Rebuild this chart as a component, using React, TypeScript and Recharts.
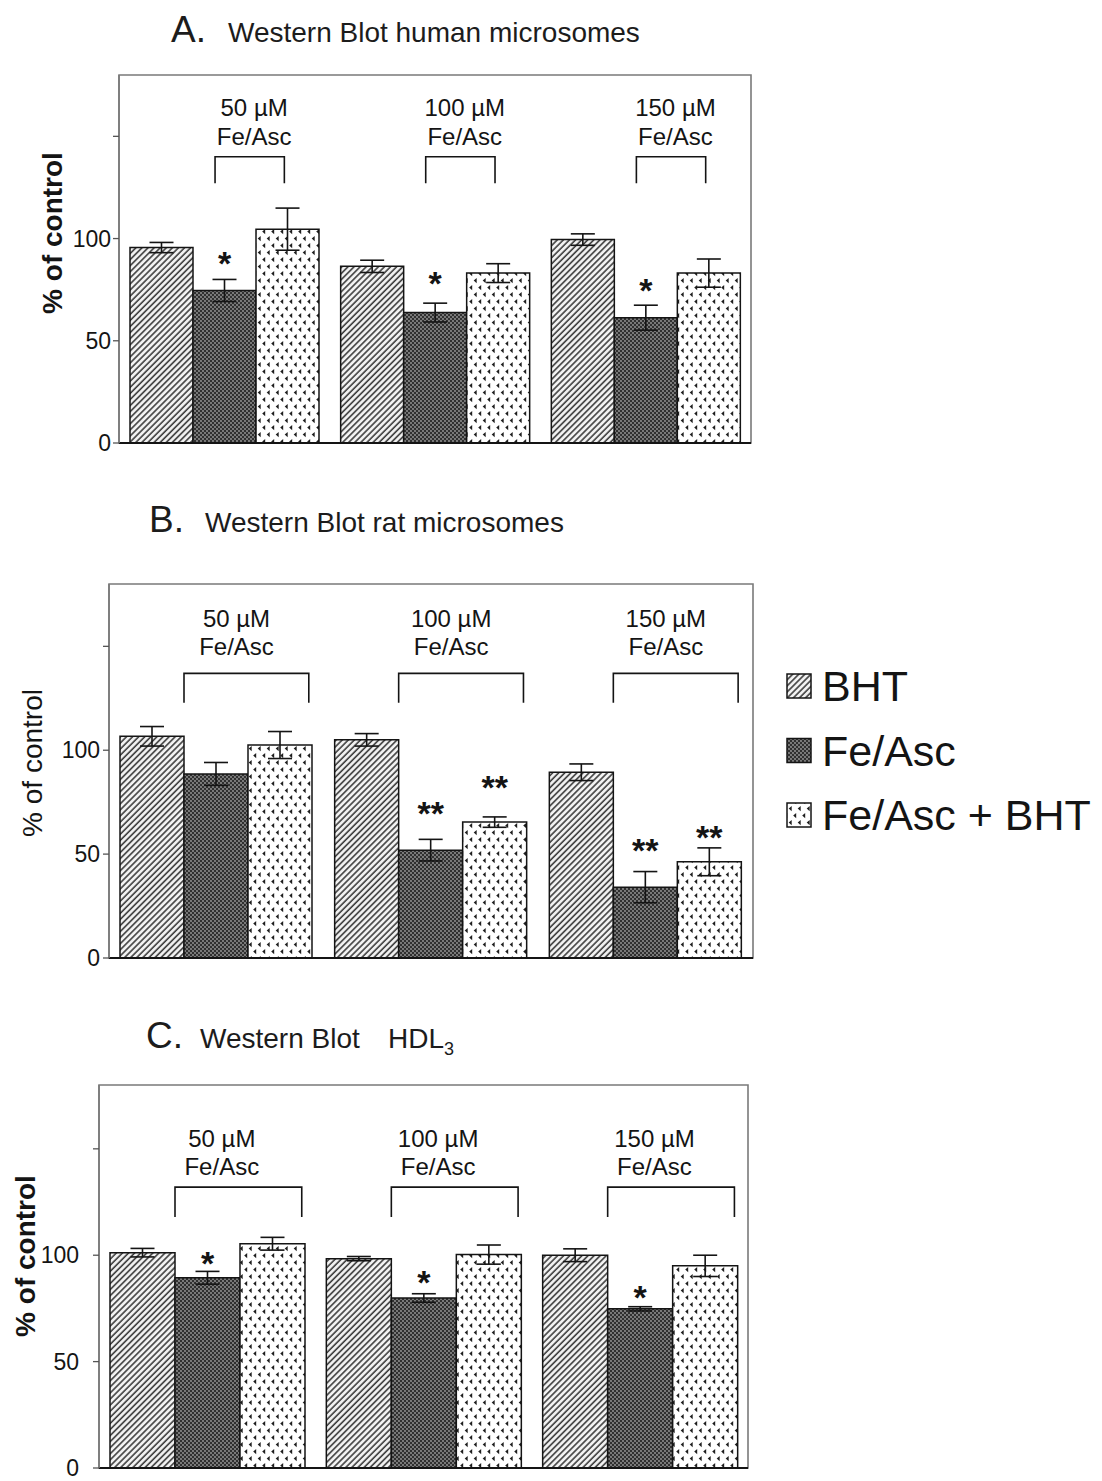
import { Bar, BarChart, ErrorBar, LabelList, ReferenceArea, XAxis, YAxis } from "recharts";

const FONT = '"Liberation Sans", Arial, Helvetica, sans-serif';
const INK = "#141414";

// shared categories and legend
const doses = ["50 µM", "100 µM", "150 µM"];
const seriesNames = ["BHT", "Fe/Asc", "Fe/Asc + BHT"];
const yTicks = [0, 50, 100, 150];

// A. human microsomes (% of control, ± SEM)
const humanBht = [95.6, 86.4, 99.5];
const humanBhtErr = [2.5, 3, 2.8];
const humanFe = [74.6, 63.8, 61.3];
const humanFeErr = [5.4, 4.6, 6.1];
const humanFeBht = [104.6, 83.1, 83.1];
const humanFeBhtErr = [10.3, 4.6, 6.9];
const humanFeSig = ["*", "*", "*"];
const humanFeSigAt = [91.5, 82, 78.5];
const humanFeBhtSig = ["", "", ""];
const humanFeBhtSigAt = [0, 0, 0];

// B. rat microsomes
const ratBht = [106.7, 105, 89.4];
const ratBhtErr = [4.7, 3, 4];
const ratFe = [88.6, 51.9, 34.1];
const ratFeErr = [5.5, 5.2, 7.5];
const ratFeBht = [102.5, 65.4, 46.3];
const ratFeBhtErr = [6.5, 2.5, 6.7];
const ratFeSig = ["", "**", "**"];
const ratFeSigAt = [0, 73.5, 55.5];
const ratFeBhtSig = ["", "**", "**"];
const ratFeBhtSigAt = [0, 86, 62];

// C. HDL3
const hdlBht = [101.2, 98.4, 100];
const hdlBhtErr = [2, 1, 3];
const hdlFe = [89.4, 79.9, 74.8];
const hdlFeErr = [3, 2, 1];
const hdlFeBht = [105.4, 100.3, 95];
const hdlFeBhtErr = [3, 4.5, 5];
const hdlFeSig = ["*", "*", "*"];
const hdlFeSigAt = [99.7, 91.1, 84];
const hdlFeBhtSig = ["", "", ""];
const hdlFeBhtSigAt = [0, 0, 0];

type Row = {
  dose: string;
  bht: number;
  bhtErr: number;
  fe: number;
  feErr: number;
  feBht: number;
  feBhtErr: number;
};

function buildRows(
  bht: number[],
  bhtErr: number[],
  fe: number[],
  feErr: number[],
  feBht: number[],
  feBhtErr: number[]
): Row[] {
  return doses.map((dose, i) => ({
    dose,
    bht: bht[i],
    bhtErr: bhtErr[i],
    fe: fe[i],
    feErr: feErr[i],
    feBht: feBht[i],
    feBhtErr: feBhtErr[i],
  }));
}

type Bracket = {
  top: number; // bracket bar, in y units
  foot: number; // bottom of the legs, in y units
  from: number; // left leg, in Fe/Asc bar widths
  to: number;
  textAt: number;
  line1: number; // baseline offsets above the bracket, px
  line2: number;
};

type PanelCfg = {
  top: number;
  height: number;
  margin: { top: number; right: number; bottom: number; left: number };
  yAxisWidth: number;
  tickMargin: number;
  rows: Row[];
  feSig: string[];
  feSigAt: number[];
  feBhtSig: string[];
  feBhtSigAt: number[];
  bracket: Bracket;
};

// value -> pixel using the bar's own geometry (bar height / bar value)
function barFrame(p: any) {
  const vb = p.viewBox ?? p;
  const x = Number(vb.x);
  const y = Number(vb.y);
  const w = Number(vb.width);
  const h = Math.abs(Number(vb.height));
  const v = Number(p.value);
  const base = y + h;
  const k = h / v;
  return { x, w, toY: (val: number) => base - val * k };
}

const SIG_SIZE = 34;

function sigLabel(marks: string[], at: number[]) {
  return (p: any) => {
    const i = Number(p.index);
    if (!marks[i]) return null;
    const f = barFrame(p);
    return (
      <text
        key={`sig-${i}`}
        x={f.x + f.w / 2}
        y={f.toY(at[i]) + SIG_SIZE * 0.57}
        textAnchor="middle"
        fontFamily={FONT}
        fontWeight="bold"
        fontSize={SIG_SIZE}
        fill={INK}
      >
        {marks[i]}
      </text>
    );
  };
}

function bracketLabel(b: Bracket) {
  return (p: any) => {
    const i = Number(p.index);
    const f = barFrame(p);
    const yTop = f.toY(b.top);
    const yFoot = f.toY(b.foot);
    const x1 = f.x + b.from * f.w;
    const x2 = f.x + b.to * f.w;
    const cx = f.x + b.textAt * f.w;
    return (
      <g key={`br-${i}`}>
        <path
          d={`M${x1},${yFoot}V${yTop}H${x2}V${yFoot}`}
          fill="none"
          stroke={INK}
          strokeWidth={1.6}
        />
        <text x={cx} y={yTop - b.line1} textAnchor="middle" fontFamily={FONT} fontSize={24} fill={INK}>
          {doses[i]}
        </text>
        <text x={cx} y={yTop - b.line2} textAnchor="middle" fontFamily={FONT} fontSize={24} fill={INK}>
          Fe/Asc
        </text>
      </g>
    );
  };
}

function Panel({ cfg }: { cfg: PanelCfg }) {
  return (
    <div style={{ position: "absolute", left: 0, top: cfg.top }}>
      <BarChart
        width={770}
        height={cfg.height}
        data={cfg.rows}
        margin={cfg.margin}
        barGap={0}
        barCategoryGap={11}
      >
        <ReferenceArea
          x1={doses[0]}
          x2={doses[2]}
          y1={0}
          y2={180}
          fill="none"
          stroke="#7a7a7a"
          strokeWidth={1.6}
          ifOverflow="visible"
        />
        <XAxis
          dataKey="dose"
          height={1}
          tick={false}
          tickLine={false}
          axisLine={{ stroke: INK, strokeWidth: 2 }}
        />
        <YAxis
          width={cfg.yAxisWidth}
          domain={[0, 180]}
          ticks={yTicks}
          interval={0}
          tickSize={6}
          tickMargin={cfg.tickMargin}
          tickFormatter={(v: number) => (v === 150 ? "" : String(v))}
          tick={{ fontFamily: FONT, fontSize: 23, fill: INK }}
          tickLine={{ stroke: "#555", strokeWidth: 1.3 }}
          axisLine={{ stroke: "#7a7a7a", strokeWidth: 1.6 }}
        />
        <Bar dataKey="bht" fill="url(#bht-hatch)" stroke={INK} strokeWidth={1.5} isAnimationActive={false}>
          <ErrorBar dataKey="bhtErr" width={12} stroke={INK} strokeWidth={1.6} />
        </Bar>
        <Bar dataKey="fe" fill="url(#fe-cross)" stroke={INK} strokeWidth={1.5} isAnimationActive={false}>
          <ErrorBar dataKey="feErr" width={12} stroke={INK} strokeWidth={1.6} />
          <LabelList dataKey="fe" content={sigLabel(cfg.feSig, cfg.feSigAt)} />
          <LabelList dataKey="fe" content={bracketLabel(cfg.bracket)} />
        </Bar>
        <Bar dataKey="feBht" fill="url(#febht-dots)" stroke={INK} strokeWidth={1.5} isAnimationActive={false}>
          <ErrorBar dataKey="feBhtErr" width={12} stroke={INK} strokeWidth={1.6} />
          <LabelList dataKey="feBht" content={sigLabel(cfg.feBhtSig, cfg.feBhtSigAt)} />
        </Bar>
      </BarChart>
    </div>
  );
}

const panelA: PanelCfg = {
  top: 60,
  height: 400,
  margin: { top: 15, right: 19, bottom: 16, left: 0 },
  yAxisWidth: 119,
  tickMargin: 2,
  rows: buildRows(humanBht, humanBhtErr, humanFe, humanFeErr, humanFeBht, humanFeBhtErr),
  feSig: humanFeSig,
  feSigAt: humanFeSigAt,
  feBhtSig: humanFeBhtSig,
  feBhtSigAt: humanFeBhtSigAt,
  bracket: { top: 140, foot: 127, from: 0.35, to: 1.45, textAt: 0.97, line1: 41, line2: 12 },
};

const panelB: PanelCfg = {
  top: 570,
  height: 400,
  margin: { top: 14, right: 17, bottom: 11, left: 0 },
  yAxisWidth: 109,
  tickMargin: 3,
  rows: buildRows(ratBht, ratBhtErr, ratFe, ratFeErr, ratFeBht, ratFeBhtErr),
  feSig: ratFeSig,
  feSigAt: ratFeSigAt,
  feBhtSig: ratFeBhtSig,
  feBhtSigAt: ratFeBhtSigAt,
  bracket: { top: 137, foot: 122.8, from: 0.0, to: 1.95, textAt: 0.82, line1: 46, line2: 18 },
};

const panelC: PanelCfg = {
  top: 1070,
  height: 411,
  margin: { top: 15, right: 22, bottom: 12, left: 0 },
  yAxisWidth: 99,
  tickMargin: 14,
  rows: buildRows(hdlBht, hdlBhtErr, hdlFe, hdlFeErr, hdlFeBht, hdlFeBhtErr),
  feSig: hdlFeSig,
  feSigAt: hdlFeSigAt,
  feBhtSig: hdlFeBhtSig,
  feBhtSigAt: hdlFeBhtSigAt,
  bracket: { top: 132, foot: 118, from: 0, to: 1.95, textAt: 0.72, line1: 40, line2: 12 },
};

const swatchFills = ["url(#bht-hatch)", "url(#fe-cross)", "url(#febht-dots)"];

function Overlay() {
  return (
    <svg
      width={1102}
      height={1481}
      style={{ position: "absolute", left: 0, top: 0, pointerEvents: "none" }}
    >
      <defs>
        <pattern id="bht-hatch" width={4.3} height={4.3} patternUnits="userSpaceOnUse" patternTransform="rotate(45)">
          <rect width={4.3} height={4.3} fill="#f4f4f4" />
          <line x1={1} y1={0} x2={1} y2={4.3} stroke="#3a3a3a" strokeWidth={1.6} />
        </pattern>
        <pattern id="fe-cross" width={4} height={4} patternUnits="userSpaceOnUse">
          <rect width={4} height={4} fill="#303030" />
          <circle cx={1} cy={1} r={0.9} fill="#9c9c9c" />
          <circle cx={3} cy={3} r={0.9} fill="#9c9c9c" />
        </pattern>
        <pattern id="febht-dots" width={9} height={14} patternUnits="userSpaceOnUse">
          <rect width={9} height={14} fill="#ffffff" />
          <path d="M4.2,1 L1.2,3.6 L4.2,6.2 Z" fill="#1e1e1e" />
          <path d="M8.7,8 L5.7,10.6 L8.7,13.2 Z" fill="#1e1e1e" />
        </pattern>
      </defs>

      {/* panel titles */}
      <g fontFamily={FONT} fill="#1c1c1c">
        <text x={171} y={42} fontSize={37}>A.</text>
        <text x={228} y={42} fontSize={28}>Western Blot human microsomes</text>
        <text x={149} y={532} fontSize={37}>B.</text>
        <text x={205} y={532} fontSize={28}>Western Blot rat microsomes</text>
        <text x={146} y={1048} fontSize={37}>C.</text>
        <text x={200} y={1048} fontSize={28}>Western Blot</text>
        <text x={388} y={1048} fontSize={28}>
          HDL
          <tspan dy={7} fontSize={18}>3</tspan>
        </text>
      </g>

      {/* y axis titles */}
      <g fontFamily={FONT} fontSize={28} fill={INK} textAnchor="middle" dominantBaseline="central">
        <text transform="translate(52,233) rotate(-90)" fontWeight="bold">% of control</text>
        <text transform="translate(32,763) rotate(-90)">% of control</text>
        <text transform="translate(25,1256) rotate(-90)" fontWeight="bold">% of control</text>
      </g>

      {/* legend */}
      <g fontFamily={FONT} fontSize={43} fill={INK}>
        {seriesNames.map((name, i) => {
          const cy = 686 + i * 64.5;
          return (
            <g key={name}>
              <rect x={787} y={cy - 12} width={24} height={24} fill={swatchFills[i]} stroke={INK} strokeWidth={1.5} />
              <text x={822} y={cy + 15}>{name}</text>
            </g>
          );
        })}
      </g>
    </svg>
  );
}

export default function App() {
  return (
    <div
      style={{
        position: "absolute",
        left: 0,
        top: 0,
        width: 1102,
        height: 1481,
        background: "#ffffff",
        overflow: "hidden",
      }}
    >
      <Panel cfg={panelA} />
      <Panel cfg={panelB} />
      <Panel cfg={panelC} />
      <Overlay />
    </div>
  );
}
